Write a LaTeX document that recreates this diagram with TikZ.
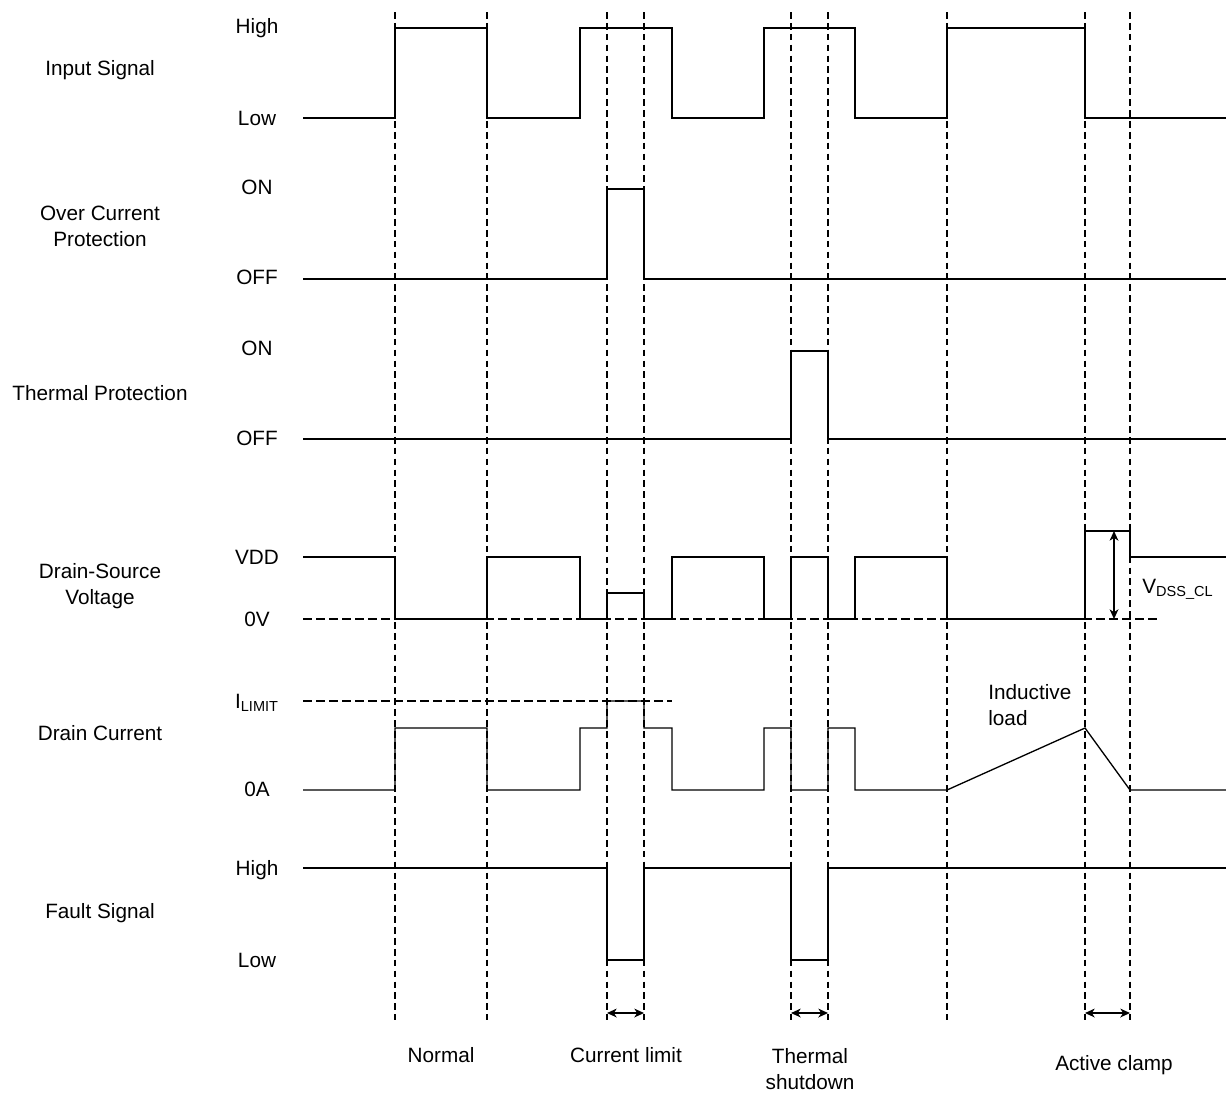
\documentclass[tikz,border=0pt]{standalone}
\usepackage{fontspec}
\setmainfont{Liberation Sans}
\usetikzlibrary{arrows.meta}
\newcommand{\tdfont}{\fontsize{11.8}{14.7}\selectfont}

\begin{document}
\begin{tikzpicture}[
    x=0.02cm, y=-0.02cm,
    wave/.style={line width=0.75pt},
    vguide/.style={line width=0.7pt, dash pattern=on 3.8pt off 2.4pt},
    hguide/.style={line width=0.7pt, dash pattern=on 5pt off 2.4pt},
    txt/.style={font=\tdfont, inner sep=0pt, align=center},
    >={Stealth[length=5.5pt, width=5pt, inset=1.6pt]},
]
    \useasboundingbox (0,0) rectangle (1226,1093);

    % Phase borders
    \foreach \t in {395, 487, 607, 644, 791, 828, 947, 1085, 1130}
        \draw[vguide] (\t, 12) -- (\t, 1020);

    % Signal names
    \node[txt] (nin) at (100, 70) {Input Signal};
    \node[txt] (nocp) at (100, 226) {Over Current\\Protection};
    \node[txt] (ntp) at (100, 393) {Thermal Protection};
    \node[txt] (nvds) at (100, 586) {Drain-Source\\Voltage};
    \node[txt] (nid) at (100, 733) {Drain Current};
    \node[txt] (nflt) at (100, 913) {Fault Signal};

    % Level names
    \node[txt] (lin1) at (257, 28) {High};
    \node[txt] (lin0) at (257, 118) {Low};
    \node[txt] (locp1) at (257, 187) {ON};
    \node[txt] (locp0) at (257, 277) {OFF};
    \node[txt] (ltp1) at (257, 348) {ON};
    \node[txt] (ltp0) at (257, 438) {OFF};
    \node[txt] (lvds1) at (257, 557) {VDD};
    \node[txt] (lvds0) at (257, 619) {0V};
    \node[txt] (lid1) at (257, 703) {I\textsubscript{LIMIT}};
    \node[txt] (lid0) at (257, 789) {0A};
    \node[txt] (lflt1) at (257, 870) {High};
    \node[txt] (lflt0) at (257, 960) {Low};

    % Reference levels
    \draw[hguide] (303, 619) -- (1160, 619);
    \draw[hguide] (303, 701) -- (672, 701);

    % Input signal
    \draw[wave] (303, 118) -| (395, 28) -| (487, 118) -| (580, 28) -| (672, 118) -| (764, 28) -| (855, 118) -| (947, 28) -| (1085, 118) -- (1226, 118);

    % Over current protection
    \draw[wave] (303, 279) -| (607, 189) -| (644, 279) -- (1226, 279);

    % Thermal protection
    \draw[wave] (303, 439) -| (791, 351) -| (828, 439) -- (1226, 439);

    % Drain-source voltage
    \draw[wave] (303, 557) -| (395, 619) -| (487, 557) -| (580, 619) -| (607, 593) -| (644, 619) -| (672, 557) -| (764, 619) -| (791, 557) -| (828, 619) -| (855, 557) -| (947, 619) -| (1085, 531) -| (1130, 557) -- (1226, 557);

    % Drain current
    \draw[wave] (303, 790) -| (395, 728) -| (487, 790) -| (580, 728) -| (607, 701) -| (644, 728) -| (672, 790) -| (764, 728) -| (791, 790) -| (828, 728) -| (855, 790) -- (947, 790) -- (1085, 728) -- (1130, 790) -- (1226, 790);

    % Fault signal
    \draw[wave] (303, 868) -| (607, 960) -| (644, 868) -| (791, 960) -| (828, 868) -- (1226, 868);

    % Clamp voltage
    \coordinate (vcl1) at (1114, 531);
    \coordinate (vcl0) at (1114, 619);
    \draw[wave, <->] (vcl1) -- (vcl0);
    \node[txt, anchor=west] (lvcl) at (1142, 589) {V\textsubscript{DSS\_CL}};
    \node[txt, anchor=west, align=left] (lind) at (988, 705) {Inductive\\load};

    % Phase widths
    \coordinate (cl0) at (607, 1013);
    \coordinate (cl1) at (644, 1013);
    \coordinate (ts0) at (791, 1013);
    \coordinate (ts1) at (828, 1013);
    \coordinate (ac0) at (1085, 1013);
    \coordinate (ac1) at (1130, 1013);
    \draw[wave, <->] (cl0) -- (cl1);
    \draw[wave, <->] (ts0) -- (ts1);
    \draw[wave, <->] (ac0) -- (ac1);

    % Phase names
    \node[txt] (pnorm) at (441, 1055) {Normal};
    \node[txt] (pcl) at (626, 1055) {Current limit};
    \node[txt] (pts) at (810, 1069) {Thermal\\shutdown};
    \node[txt] (pac) at (1114, 1065) {Active clamp};
\end{tikzpicture}
\end{document}
